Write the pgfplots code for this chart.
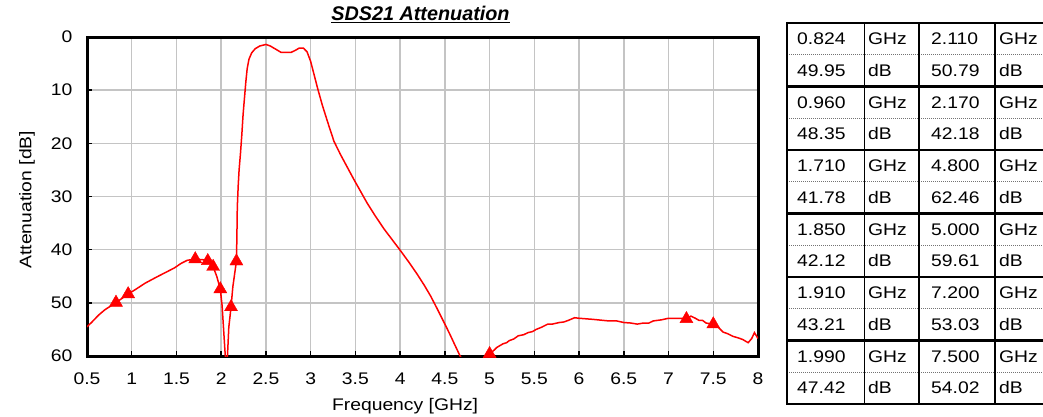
\documentclass[border=0pt]{standalone}
\usepackage{pgfplots}
\pgfplotsset{compat=1.18}
\usepackage{fontspec}
\setmainfont{Liberation Sans}[FakeStretch=1.15]
\newfontfamily\titlefont{Liberation Sans}
\newcommand\lbl{\fontsize{16.8}{19}\selectfont}
\definecolor{gridgray}{RGB}{196,196,196}
\begin{document}
\begin{tikzpicture}
\path[use as bounding box] (0pt,0pt) rectangle (1043pt,-417pt);
\begin{axis}[
  scale only axis, width=671pt, height=319pt,
  at={(87pt,-37pt)}, anchor=north west,
  xmin=0.5, xmax=8, ymin=0, ymax=60, y dir=reverse,
  xtick={0.5,1,1.5,2,2.5,3,3.5,4,4.5,5,5.5,6,6.5,7,7.5,8},
  xticklabels={0.5,1,1.5,2,2.5,3,3.5,4,4.5,5,5.5,6,6.5,7,7.5,8},
  ytick={0,10,20,30,40,50,60},
  yticklabels={0,10,20,30,40,50,60},
  grid=major, major grid style={draw=gridgray, line width=1.5pt},
  tick align=inside, xtick pos=bottom, ytick pos=left, major tick length=5pt,
  tick style={black, line width=1.5pt},
  axis line style={line width=3pt},
  clip mode=individual,
  tick label style={font=\lbl},
  xticklabel style={yshift=-13pt},
  yticklabel style={xshift=-11pt},
  xlabel={Frequency [GHz]}, ylabel={Attenuation [dB]},
  label style={font=\lbl},
  xlabel style={at={(axis description cs:0.474,-0.157)}, anchor=center},
  ylabel style={at={(axis description cs:-0.0894,0.49)}, anchor=center},
  title={\underline{\titlefont\fontsize{19.8}{22}\selectfont\bfseries\itshape SDS21 Attenuation}},
  title style={at={(axis description cs:0.497,1.032)}, anchor=base},
]
\addplot[red, line width=1.5pt] coordinates {
(0.50,54.5) (0.55,53.7) (0.63,52.3) (0.70,51.3) (0.824,49.95) (0.96,48.35)
(1.05,47.4) (1.15,46.3) (1.25,45.4) (1.33,44.7) (1.40,44.1) (1.48,43.4)
(1.55,42.6) (1.62,42.0) (1.71,41.78) (1.80,41.9) (1.85,42.12) (1.91,43.21)
(1.95,45.0) (1.99,47.42) (2.01,50.5) (2.025,54.5) (2.04,58.5) (2.05,61)
(2.06,63) (2.07,60) (2.085,54.6) (2.11,50.79) (2.13,47.0) (2.17,42.18)
(2.175,38) (2.18,32) (2.19,28) (2.20,25) (2.215,22) (2.23,18.5) (2.245,14.5)
(2.26,11.5) (2.275,8.5) (2.29,6) (2.31,4.2) (2.34,3.0) (2.38,2.2) (2.43,1.7)
(2.50,1.4) (2.55,1.7) (2.60,2.2) (2.67,2.9) (2.78,2.9) (2.83,2.5) (2.87,2.1)
(2.92,2.1) (2.96,2.8) (3.00,4.6) (3.04,7.2) (3.08,9.8) (3.13,12.8) (3.19,16)
(3.26,19.6) (3.33,22.0) (3.40,24.2) (3.48,26.7) (3.55,28.8) (3.63,31.2)
(3.72,33.6) (3.82,36.1) (3.91,38.1) (4.00,40.1) (4.10,42.4) (4.19,44.6)
(4.27,46.7) (4.34,48.7) (4.42,51.3) (4.50,54.0) (4.55,55.7) (4.60,57.5)
(4.67,60.0) (4.73,61.5) (4.80,62.46) (4.90,61.8) (4.97,60.3) (5.00,59.61)
(5.05,58.9) (5.08,58.4) (5.12,58.0) (5.15,57.7) (5.19,57.5) (5.22,57.1)
(5.27,56.8) (5.32,56.2) (5.38,56.0) (5.43,55.6) (5.48,55.4) (5.52,55.0)
(5.58,54.6) (5.65,54.0) (5.70,54.0) (5.78,53.7) (5.83,53.6) (5.88,53.3)
(5.95,52.8) (6.00,52.9) (6.15,53.1) (6.33,53.4) (6.42,53.4) (6.50,53.7)
(6.58,53.8) (6.65,54.0) (6.72,53.8) (6.78,53.8) (6.83,53.4) (6.92,53.2)
(7.00,52.9) (7.14,52.9) (7.20,53.03) (7.25,52.5) (7.30,52.9) (7.34,53.3)
(7.38,53.3) (7.42,53.8) (7.50,54.02) (7.55,54.5) (7.61,55.5) (7.66,55.8)
(7.72,56.3) (7.78,56.6) (7.83,56.9) (7.89,57.5) (7.93,56.7) (7.96,55.6)
(8.00,56.7)
};
\addplot[only marks, red, mark=triangle*, mark size=7.5pt, restrict y to domain=0:60] coordinates {
(0.824,49.95) (0.960,48.35) (1.710,41.78) (1.850,42.12) (1.910,43.21) (1.990,47.42)
(2.110,50.79) (2.170,42.18) (4.800,62.46) (5.000,59.61) (7.200,53.03) (7.500,54.02)
};
\end{axis}
% table
\foreach \yy in {23,86.5,150,213.5,277,340.5,404}
  \draw[line width=2.2pt] (786pt,-\yy pt) -- (1043pt,-\yy pt);
\foreach \yy in {54.75,118.25,181.75,245.25,308.75,372.25}
  \draw[line width=1.3pt, black!55, dash pattern=on 1pt off 1pt] (787pt,-\yy pt) -- (1043pt,-\yy pt);
\draw[line width=2.2pt] (787pt,-22pt) -- (787pt,-405pt);
\draw[line width=1.8pt] (864.5pt,-23pt) -- (864.5pt,-404pt);
\draw[line width=2.6pt] (919pt,-23pt) -- (919pt,-404pt);
\draw[line width=1.8pt] (995pt,-23pt) -- (995pt,-404pt);
\foreach \a/\b/\c/\d [count=\i from 0] in {0.824/49.95/2.110/50.79,0.960/48.35/2.170/42.18,1.710/41.78/4.800/62.46,1.850/42.12/5.000/59.61,1.910/43.21/7.200/53.03,1.990/47.42/7.500/54.02}{
  \pgfmathsetmacro\ya{-(23+63.5*\i+21.7)}
  \pgfmathsetmacro\yb{-(23+63.5*\i+31.75+21.7)}
  \node[anchor=base west, inner sep=0pt, font=\lbl] at (797pt,\ya pt) {\a};
  \node[anchor=base west, inner sep=0pt, font=\lbl] at (868pt,\ya pt) {GHz};
  \node[anchor=base west, inner sep=0pt, font=\lbl] at (931pt,\ya pt) {\c};
  \node[anchor=base west, inner sep=0pt, font=\lbl] at (999pt,\ya pt) {GHz};
  \node[anchor=base west, inner sep=0pt, font=\lbl] at (797pt,\yb pt) {\b};
  \node[anchor=base west, inner sep=0pt, font=\lbl] at (868pt,\yb pt) {dB};
  \node[anchor=base west, inner sep=0pt, font=\lbl] at (931pt,\yb pt) {\d};
  \node[anchor=base west, inner sep=0pt, font=\lbl] at (999pt,\yb pt) {dB};
}
\end{tikzpicture}
\end{document}
